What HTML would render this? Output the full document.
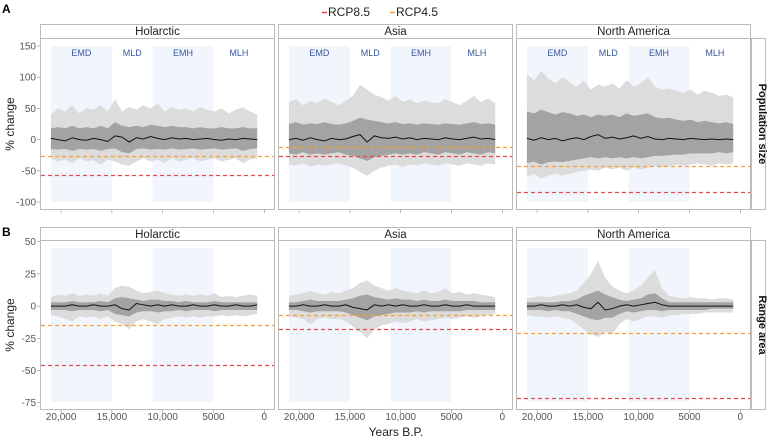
<!DOCTYPE html>
<html><head><meta charset="utf-8"><style>
html,body{margin:0;padding:0;background:#fff;}
svg{display:block;font-family:"Liberation Sans",Arial,sans-serif;}
</style></head><body>
<svg id="chart" width="767" height="440" viewBox="0 0 767 440"></svg>
<script>
const years=[21000,20300,19600,18900,18200,17500,16800,16100,15400,14700,14000,13300,12600,11900,11200,10500,9800,9100,8400,7700,7000,6300,5600,4900,4200,3500,2800,2100,1400,700];
const panelNames=["Holarctic","Asia","North America"];
const rowNames=["Population size","Range area"];
const periodLabels=["EMD","MLD","EMH","MLH"];
const periodYears=[18000,13000,8000,2500];
const shadeStart=[21000,11000];
const shadeEnd=[15000,5000];
const xTicks=[20000,15000,10000,5000,0];
const xTickLabels=["20,000","15,000","10,000","5000","0"];
const yTicksTop=[150,100,50,0,-50,-100];
const yTicksBottom=[50,25,0,-25,-50,-75];
const rcp85=[[-57,-26,-84],[-46,-18,-71]];
const rcp45=[[-26,-12,-42],[-15,-7,-21]];
// top row, Holarctic
const hTopOHi=[40,50,45,55,42,50,48,55,45,65,45,52,48,55,50,58,45,52,48,50,45,52,48,45,50,42,48,52,45,40];
const hTopOLo=[-30,-35,-32,-38,-30,-35,-33,-40,-32,-35,-40,-42,-35,-30,-35,-32,-38,-30,-35,-32,-30,-35,-32,-30,-35,-32,-30,-38,-32,-30];
const hTopIHi=[18,20,18,22,18,20,18,22,18,28,22,20,22,20,24,22,20,22,20,20,18,20,18,18,20,18,18,20,18,18];
const hTopILo=[-15,-16,-15,-18,-15,-16,-15,-18,-15,-14,-20,-22,-15,-14,-16,-15,-16,-14,-16,-15,-14,-16,-15,-14,-16,-15,-14,-18,-15,-14];
const hTopMean=[2,0,-2,3,0,-1,2,0,-3,6,4,-4,3,1,5,2,0,3,1,2,0,1,2,0,-1,1,0,2,1,0];
// top row, Asia
const aTopOHi=[60,65,55,62,58,66,60,55,62,70,88,80,72,68,62,70,60,65,58,62,60,58,65,60,55,62,70,60,66,58];
const aTopOLo=[-40,-42,-38,-44,-40,-42,-40,-38,-42,-45,-52,-58,-50,-45,-42,-40,-44,-40,-42,-38,-40,-42,-38,-40,-42,-38,-40,-42,-38,-40];
const aTopIHi=[25,28,24,26,25,28,25,24,26,30,35,32,30,28,26,28,25,26,24,26,25,24,26,25,24,26,28,25,26,24];
const aTopILo=[-22,-24,-20,-24,-22,-24,-22,-20,-24,-26,-30,-34,-28,-26,-24,-22,-24,-22,-24,-20,-22,-24,-20,-22,-24,-20,-22,-24,-20,-22];
const aTopMean=[0,2,-1,3,0,-2,2,0,1,5,8,-4,6,3,2,4,1,3,0,2,1,0,3,1,0,2,4,1,2,0];
// top row, North America
const nTopOHi=[105,95,110,98,90,100,92,85,95,80,88,85,90,82,95,85,90,100,85,80,82,78,75,80,72,78,75,70,72,68];
const nTopOLo=[-60,-55,-62,-58,-55,-58,-55,-52,-50,-48,-50,-45,-48,-45,-50,-45,-48,-45,-42,-45,-42,-40,-42,-40,-38,-40,-42,-38,-40,-38];
const nTopIHi=[45,42,48,44,40,44,42,38,40,36,40,38,40,36,42,38,40,42,36,34,35,32,30,32,28,30,28,26,28,25];
const nTopILo=[-38,-35,-40,-36,-35,-36,-34,-32,-30,-28,-30,-28,-30,-28,-30,-28,-30,-28,-26,-26,-25,-24,-24,-22,-22,-22,-22,-20,-22,-20];
const nTopMean=[2,-1,3,0,2,-2,1,3,0,5,8,2,4,1,3,6,2,5,1,0,2,1,0,2,1,0,1,0,1,0];
// bottom row, Holarctic
const hBotOHi=[7,9,8,10,8,9,8,10,8,14,16,15,12,10,11,12,10,9,8,9,8,9,8,10,7,8,7,8,9,8];
const hBotOLo=[-7,-8,-10,-12,-8,-9,-8,-10,-8,-12,-14,-18,-12,-10,-12,-14,-10,-9,-8,-9,-8,-9,-8,-8,-7,-8,-7,-8,-7,-6];
const hBotIHi=[3,3,3,4,3,3,3,4,3,6,7,6,5,4,5,5,4,4,3,4,3,3,3,4,3,3,3,3,3,3];
const hBotILo=[-3,-3,-3,-4,-3,-3,-3,-4,-3,-6,-7,-8,-5,-4,-4,-5,-4,-4,-3,-4,-3,-3,-3,-4,-3,-3,-3,-3,-3,-3];
const hBotMean=[0,0,0,1,0,0,1,0,0,1,-2,-3,2,1,0,1,0,1,0,0,1,0,0,1,0,0,1,0,0,1];
// bottom row, Asia
const aBotOHi=[8,9,10,12,10,9,11,10,12,14,18,20,16,14,12,14,12,11,10,12,10,11,14,10,11,9,10,9,8,7];
const aBotOLo=[-8,-9,-10,-14,-10,-9,-10,-10,-12,-16,-20,-25,-18,-15,-14,-12,-13,-12,-10,-12,-11,-10,-9,-10,-9,-8,-9,-8,-7,-6];
const aBotIHi=[3,3,4,5,4,4,4,4,5,6,8,9,7,6,5,6,5,5,4,5,4,4,5,4,4,4,4,3,3,3];
const aBotILo=[-3,-3,-4,-5,-4,-4,-4,-4,-5,-7,-9,-11,-8,-7,-6,-5,-5,-5,-4,-5,-4,-4,-4,-4,-4,-3,-3,-3,-3,-3];
const aBotMean=[0,0,1,0,0,1,0,0,1,-1,-2,-3,1,0,1,0,1,0,0,1,0,0,1,0,0,1,0,0,0,0];
// bottom row, North America
const nBotOHi=[6,7,8,7,8,9,10,12,18,25,35,22,15,12,10,12,16,22,28,14,8,7,6,7,6,6,5,6,6,5];
const nBotOLo=[-7,-8,-8,-9,-8,-9,-10,-14,-18,-22,-24,-20,-22,-14,-10,-12,-10,-8,-8,-9,-7,-7,-6,-6,-6,-5,-5,-5,-5,-5];
const nBotIHi=[3,3,3,3,3,4,4,5,8,10,12,9,7,5,4,5,6,9,10,6,3,3,3,3,3,3,3,3,3,3];
const nBotILo=[-3,-3,-3,-4,-3,-4,-4,-6,-8,-10,-11,-9,-9,-6,-4,-5,-4,-3,-3,-4,-3,-3,-3,-3,-3,-3,-2,-2,-2,-2];
const nBotMean=[0,0,1,0,0,1,0,1,-1,-2,3,-3,-2,0,1,0,1,2,3,1,0,0,0,0,0,0,0,0,0,0];

const series=[
 [[hTopOHi,hTopOLo,hTopIHi,hTopILo,hTopMean],[aTopOHi,aTopOLo,aTopIHi,aTopILo,aTopMean],[nTopOHi,nTopOLo,nTopIHi,nTopILo,nTopMean]],
 [[hBotOHi,hBotOLo,hBotIHi,hBotILo,hBotMean],[aBotOHi,aBotOLo,aBotIHi,aBotILo,aBotMean],[nBotOHi,nBotOLo,nBotIHi,nBotILo,nBotMean]]
];

const svg=document.getElementById('chart');
const NS="http://www.w3.org/2000/svg";
function mk(tag,attrs,parent){const e=document.createElementNS(NS,tag);for(const k in attrs)e.setAttribute(k,attrs[k]);(parent||svg).appendChild(e);return e;}

const colX=[40,278,516], colW=235;
const rowStrip=[24,227], rowTop=[38,240], rowBot=[210,410];
const yZero=[139.6,306.1], yK=[0.624,1.288];
const bandTop=[46,248], bandBot=[202,402];
function xs(c,yr){return colX[c]+224.3-yr*0.01016;}
function ys(r,v){return yZero[r]-v*yK[r];}
function yl(r,v){return Math.round(ys(r,v))+0.5;}

let t=mk('text',{x:328,y:16,'font-size':12,fill:'#222'});t.textContent='RCP8.5';

mk('line',{x1:322,x2:327,y1:12.5,y2:12.5,stroke:'#e8474f','stroke-width':1.5});
t=mk('text',{x:396,y:16,'font-size':12,fill:'#222'});t.textContent='RCP4.5';

mk('line',{x1:390,x2:395,y1:12.5,y2:12.5,stroke:'#f5a03a','stroke-width':1.5});

t=mk('text',{x:2,y:13,'font-size':12,'font-weight':'bold',fill:'#000'});t.textContent='A';

t=mk('text',{x:2,y:236,'font-size':12,'font-weight':'bold',fill:'#000'});t.textContent='B';


for(let r=0;r<2;r++){
  const yc=(rowTop[r]+rowBot[r])/2;
  t=mk('text',{x:14,y:yc,'font-size':12,fill:'#222','text-anchor':'middle',transform:`rotate(-90 14 ${yc})`});
  t.textContent='% change';
  
  const ticks=r===0?yTicksTop:yTicksBottom;
  ticks.forEach(v=>{
    const tt=mk('text',{x:36,y:ys(r,v)+3.5,'font-size':10,fill:'#555','text-anchor':'end'});
    tt.textContent=v;
    
    mk('line',{x1:37,x2:40,y1:ys(r,v),y2:ys(r,v),stroke:'#888','stroke-width':0.6});
  });
  mk('rect',{x:751.5,y:rowTop[r]+0.5,width:14,height:rowBot[r]-rowTop[r]-1,fill:'#fff',stroke:'#bbb'});
  t=mk('text',{x:759,y:yc,'font-size':11,'font-weight':'bold',fill:'#111','text-anchor':'middle',transform:`rotate(90 759 ${yc})`});
  t.textContent=rowNames[r];
  

  for(let c=0;c<3;c++){
    const g=mk('g',{});
    
    
    mk('rect',{x:colX[c]+0.5,y:rowStrip[r]+0.5,width:colW-1,height:rowTop[r]-rowStrip[r],fill:'#fff',stroke:'#bbb'},g);
    const st=mk('text',{x:colX[c]+colW/2,y:rowStrip[r]+11,'font-size':11.5,fill:'#222','text-anchor':'middle'},g);
    st.textContent=panelNames[c];
    
    mk('rect',{x:colX[c]+0.5,y:rowTop[r]+0.5,width:colW-1,height:rowBot[r]-rowTop[r]-1,fill:'#fff',stroke:'#bbb'},g);
    for(let b=0;b<2;b++){
      const sh=mk('rect',{x:xs(c,shadeStart[b]),y:bandTop[r],width:xs(c,shadeEnd[b])-xs(c,shadeStart[b]),height:bandBot[r]-bandTop[r],fill:'#f1f6fd'},g);
      
    }
    if(r===0){periodLabels.forEach((p,i)=>{
      const pl=mk('text',{x:xs(c,periodYears[i]),y:56,'font-size':9,fill:'#3a56a0','text-anchor':'middle'},g);
      pl.textContent=p;
      
    });}
    const [oh,ol,ih,il,mn]=series[r][c];
    function band(hi,lo,fill,name){
      let pts=[];
      years.forEach((y,i)=>{pts.push(xs(c,y)+','+ys(r,hi[i]));});
      for(let i=years.length-1;i>=0;i--)pts.push(xs(c,years[i])+','+ys(r,lo[i]));
      const pg=mk('polygon',{points:pts.join(' '),fill:fill},g);
      
    }
    band(oh,ol,'#dcdcdc','outer-range');
    band(ih,il,'#a3a3a3','inner-range');
    const mp=mk('polyline',{points:years.map((y,i)=>xs(c,y)+','+ys(r,mn[i])).join(' '),fill:'none',stroke:'#111','stroke-width':1},g);
    
    const l45=mk('line',{x1:colX[c]+1,x2:colX[c]+colW-1,y1:yl(r,rcp45[r][c]),y2:yl(r,rcp45[r][c]),stroke:'#f5a03a','stroke-width':1.3,'stroke-dasharray':'4,3'},g);
    
    const l85=mk('line',{x1:colX[c]+1,x2:colX[c]+colW-1,y1:yl(r,rcp85[r][c]),y2:yl(r,rcp85[r][c]),stroke:'#e8474f','stroke-width':1.3,'stroke-dasharray':'4,3'},g);
    
    xTicks.forEach((v,i)=>{
      mk('line',{x1:xs(c,v),x2:xs(c,v),y1:rowBot[r],y2:rowBot[r]+3,stroke:'#888','stroke-width':0.6},g);
      if(r===1){
        const xl=mk('text',{x:xs(c,v),y:420,'font-size':10,fill:'#555','text-anchor':'middle'},g);
        xl.textContent=xTickLabels[i];
        
      }
    });
  }
}
t=mk('text',{x:396,y:436,'font-size':12,fill:'#222','text-anchor':'middle'});t.textContent='Years B.P.';

</script>
</body></html>
